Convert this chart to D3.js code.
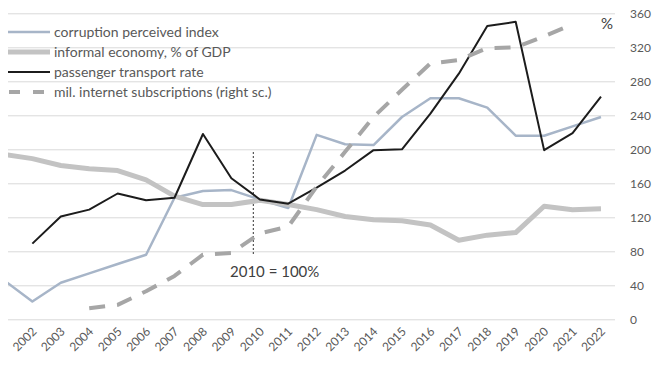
<!DOCTYPE html>
<html>
<head>
<meta charset="utf-8">
<script src="https://cdn.jsdelivr.net/npm/d3@7"></script>
<style>
  body { margin: 0; background: #fff; }
  svg { display: block; font-family: Lato, "Open Sans", sans-serif; }
</style>
</head>
<body>
<svg id="chart" width="655" height="369"></svg>
<script>
// years on the category axis (2001 sits off the left edge, cut by the crop)
const years = d3.range(2001, 2023);

// values read against the right-hand scale
const corruption = [46, 21, 43, 54, 65, 76, 143, 151, 152, 141, 131, 217, 206, 205, 238, 260, 260, 249, 216, 216, 227, 238];
const informal = [194, 189, 181, 177, 175, 164, 145, 135, 135, 140, 135, 129, 121, 117, 116, 111, 93, 99, 102, 133, 129, 130];
const passenger = [null, 89, 121, 129, 148, 140, 143, 218, 166, 141, 136, 155, 175, 199, 200, 242, 289, 345, 350, 199, 219, 262];
const internet = [null, null, null, 13, 17, 33, 51, 76, 78, 101, 109, 156, 197, 238, 270, 301, 305, 319, 320, 333, 347, null];

const yTicks = d3.range(0, 361, 40);

const series = [
  { name: "corruption perceived index", values: corruption, color: "#a7b5c8", width: 2.5, dash: null },
  { name: "informal economy, % of GDP", values: informal, color: "#c3c3c3", width: 5, dash: null },
  { name: "passenger transport rate", values: passenger, color: "#1c1c1c", width: 2, dash: null },
  { name: "mil. internet subscriptions (right sc.)", values: internet, color: "#a6a6a6", width: 4, dash: "16,12" }
];

const svg = d3.select("#chart");
const plotLeft = 8, plotRight = 615;

const x = d3.scaleBand().domain(years).range([-10.3, 615.2]).padding(0);
const cx = (yr) => x(yr) + x.bandwidth() / 2;
const y = d3.scaleLinear().domain([0, 360]).range([319.3, 13.3]);

svg.append("defs").append("clipPath").attr("id", "plotclip")
  .append("rect").attr("x", plotLeft).attr("y", 0).attr("width", plotRight - plotLeft).attr("height", 369);

// gridlines + right axis labels
const yAxis = svg.append("g")
  .attr("transform", `translate(${plotRight},0)`)
  .call(d3.axisRight(y).tickValues(yTicks).tickSizeInner(-(plotRight - plotLeft)).tickSizeOuter(0).tickPadding(15));
yAxis.select(".domain").remove();
yAxis.selectAll(".tick line").attr("stroke", "#d9d9d9").attr("stroke-width", 1);
yAxis.selectAll(".tick text").attr("fill", "#595959").attr("font-size", 12).attr("font-family", "Lato, sans-serif");

svg.append("text").attr("x", 601).attr("y", 29).attr("fill", "#404040")
  .attr("font-size", 15).text("%");

// x axis labels
const xAxis = svg.append("g")
  .attr("transform", `translate(0,${y(0)})`)
  .call(d3.axisBottom(x).tickValues(years.filter(d => d >= 2002)).tickSize(0));
xAxis.select(".domain").remove();
xAxis.selectAll(".tick text")
  .attr("fill", "#595959").attr("font-size", 12).attr("font-family", "Lato, sans-serif")
  .attr("text-anchor", "end").attr("y", 0).attr("dy", 0)
  .attr("transform", "translate(5,13) rotate(-45)");

// 2010 marker
svg.append("line")
  .attr("x1", cx(2010) - 6.5).attr("x2", cx(2010) - 6.5)
  .attr("y1", 152).attr("y2", 256)
  .attr("stroke", "#333").attr("stroke-width", 1).attr("stroke-dasharray", "2,2");
svg.append("text").attr("x", 230).attr("y", 277).attr("fill", "#404040")
  .attr("font-size", 15).text("2010 = 100%");

// series lines
const line = d3.line()
  .defined(d => d.v != null)
  .x(d => cx(d.yr))
  .y(d => y(d.v));

const lines = svg.append("g").attr("clip-path", "url(#plotclip)");
lines.selectAll("path")
  .data(series)
  .join("path")
  .attr("fill", "none")
  .attr("stroke", d => d.color)
  .attr("stroke-width", d => d.width)
  .attr("stroke-dasharray", d => d.dash)
  .attr("stroke-linejoin", "round")
  .attr("d", d => line(years.map((yr, i) => ({ yr: yr, v: d.values[i] }))));

// legend
const legend = svg.append("g");
const rows = legend.selectAll("g").data(series).join("g")
  .attr("transform", (d, i) => `translate(0,${32 + i * 20})`);
rows.append("line")
  .attr("x1", d => d.dash ? 9 : 8).attr("x2", 50).attr("y1", 0).attr("y2", 0)
  .attr("stroke", d => d.color)
  .attr("stroke-width", d => d.width)
  .attr("stroke-dasharray", d => d.dash ? "11,13" : null);
rows.append("text")
  .attr("x", 54).attr("y", 5)
  .attr("fill", "#595959").attr("font-size", 14)
  .text(d => d.name);
</script>
</body>
</html>
